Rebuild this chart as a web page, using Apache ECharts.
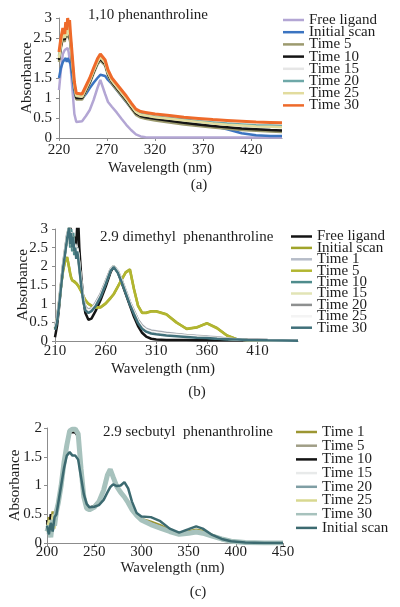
<!DOCTYPE html>
<html><head><meta charset="utf-8">
<script src="https://cdn.jsdelivr.net/npm/echarts@6/dist/echarts.min.js"></script>
<style>html,body{margin:0;padding:0;background:#fff;} .c{position:absolute;left:0;top:0;width:400px;height:607px;}</style>
</head><body>
<div id="pa" class="c"></div><div id="pb" class="c"></div><div id="pc" class="c"></div>
<script>
// ---------- Panel (a): 1,10 phenanthroline ----------
const wlA = [220,222,224,226,227,228,229,230,231,232,234,236,238,240,244,248,252,256,260,263,265,268,271,275,280,285,290,295,300,305,310,320,335,350,365,380,395,410,425,440,452];
const aFree = [1.2,1.7,2.1,2.2,2.25,2.2,2.25,2.15,2.1,1.8, 1.2,0.6,0.4,0.37,0.42,0.55,0.7,0.95,1.25,1.45, 1.42,1.1,0.9,0.78,0.64,0.48,0.33,0.2,0.09,0.04, 0.02,0.01,0.01,0.01,0.01,0.01,0.01,0.01,0.01,0.01, 0.01];
const aInitial = [1.5,1.75,1.9,1.95,2.0,1.9,2.0,1.95,1.97,1.85, 1.5,1.15,0.98,0.95,0.98,1.1,1.25,1.38,1.5,1.58, 1.62,1.55,1.45,1.35,1.2,1.05,0.9,0.75,0.62,0.56, 0.53,0.5,0.45,0.4,0.35,0.3,0.22,0.12,0.07,0.05, 0.05];
const aTime5 = [1.9,2.25,2.5,2.4,2.65,2.5,2.7,2.6,2.65,2.35, 1.75,1.26,0.96,0.92,0.96,1.16,1.36,1.61,1.84,1.94, 1.94,1.81,1.56,1.36,1.21,1.06,0.91,0.74,0.58,0.51, 0.48,0.44,0.39,0.34,0.3,0.26,0.23,0.2,0.18,0.16, 0.15];
const aTime10 = [1.95,2.3,2.55,2.45,2.7,2.55,2.75,2.65,2.7,2.4, 1.8,1.3,1.0,0.96,1.0,1.2,1.4,1.65,1.88,1.98, 1.98,1.85,1.6,1.4,1.25,1.1,0.95,0.78,0.62,0.55, 0.52,0.48,0.43,0.38,0.34,0.3,0.27,0.24,0.22,0.2, 0.19];
const aTime15 = [2.02,2.38,2.62,2.52,2.78,2.58,2.82,2.72,2.78,2.48, 1.88,1.33,1.06,1.01,1.04,1.24,1.44,1.69,1.91,2.03, 2.04,1.89,1.64,1.44,1.29,1.14,0.99,0.82,0.66,0.59, 0.57,0.53,0.49,0.45,0.41,0.37,0.34,0.32,0.3,0.29, 0.28];
const aTime20 = [2.05,2.4,2.65,2.55,2.8,2.6,2.85,2.75,2.8,2.5, 1.9,1.35,1.07,1.02,1.05,1.25,1.45,1.7,1.92,2.04, 2.05,1.9,1.65,1.45,1.3,1.15,1.0,0.83,0.67,0.6, 0.58,0.54,0.5,0.46,0.42,0.39,0.36,0.34,0.32,0.31, 0.3];
const aTime25 = [2.0,2.35,2.6,2.5,2.75,2.55,2.8,2.7,2.75,2.45, 1.85,1.32,1.05,1.0,1.03,1.23,1.43,1.68,1.9,2.02, 2.03,1.88,1.63,1.43,1.28,1.13,0.98,0.81,0.65,0.58, 0.56,0.52,0.48,0.44,0.4,0.36,0.33,0.31,0.29,0.28, 0.27];
const aTime30 = [2.15,2.5,2.75,2.6,2.9,2.7,3.0,2.85,2.95,2.6, 2.0,1.4,1.12,1.07,1.1,1.3,1.5,1.75,1.98,2.1, 2.12,1.95,1.7,1.5,1.35,1.2,1.05,0.88,0.72,0.66, 0.64,0.6,0.56,0.52,0.49,0.46,0.44,0.42,0.4,0.39, 0.38];

// ---------- Panel (b): 2.9 dimethyl phenanthroline ----------
const wlB = [210,212,214,216,218,220,222,224,225,226, 227,228,229,230,231,232,233,234,236,238, 240,243,246,250,255,260,265,268,272,276, 280,284,288,292,296,300,305,310,320,330, 340,350,360,370,380,390,400,420,450];
const bFree = [0.1,0.4,0.9,1.5,2.0,2.4,2.8,3.0,3.2,2.6, 2.9,2.5,2.8,2.4,2.6,3.1,3.2,2.5,1.7,1.1, 0.75,0.57,0.6,0.8,1.1,1.45,1.85,2.0,1.85,1.55, 1.25,0.95,0.65,0.4,0.22,0.12,0.06,0.04,0.03,0.03, 0.03,0.02,0.02,0.02,0.02,0.02,0.02,0.01,0.01];
const bInitial = [0.35,0.6,1.0,1.5,1.9,2.15,2.25,1.95,1.8,1.68, 1.62,1.6,1.6,1.57,1.55,1.52,1.48,1.44,1.33,1.2, 1.1,1.0,0.95,0.9,0.9,1.0,1.15,1.25,1.45,1.65, 1.85,1.92,1.4,0.95,0.76,0.76,0.8,0.8,0.72,0.5, 0.32,0.36,0.48,0.35,0.15,0.04,0.03,0.02,0.01];
const bTime1 = [0.42,0.62,1.05,1.55,2.05,2.45,2.85,3.0,2.75,2.95, 2.6,2.75,2.5,2.6,2.45,2.5,2.35,2.05,1.55,1.15, 0.92,0.84,0.88,1.02,1.26,1.6,1.93,2.0,1.88,1.63, 1.34,1.05,0.81,0.57,0.42,0.33,0.28,0.26,0.22,0.19, 0.16,0.14,0.12,0.1,0.07,0.05,0.04,0.03,0.02];
const bTime5 = [0.33,0.58,1.0,1.5,1.88,2.13,2.23,1.97,1.82,1.7, 1.63,1.6,1.58,1.56,1.54,1.5,1.47,1.43,1.32,1.19, 1.09,0.99,0.94,0.9,0.91,1.01,1.16,1.26,1.46,1.66, 1.84,1.9,1.38,0.94,0.75,0.75,0.79,0.79,0.71,0.49, 0.33,0.37,0.47,0.34,0.14,0.04,0.03,0.02,0.01];
const bTime10 = [0.35,0.55,1.0,1.5,2.0,2.4,2.8,3.1,2.5,3.0, 2.4,2.9,2.3,2.6,2.3,2.5,2.3,2.0,1.5,1.1, 0.85,0.78,0.82,0.95,1.2,1.55,1.9,2.0,1.85,1.6, 1.3,1.0,0.75,0.5,0.35,0.27,0.22,0.2,0.17,0.15, 0.13,0.11,0.09,0.07,0.05,0.04,0.03,0.02,0.01];
const bTime15 = [0.38,0.58,1.02,1.52,2.02,2.42,2.82,3.05,2.6,2.9, 2.5,2.8,2.4,2.55,2.35,2.45,2.3,2.02,1.52,1.12, 0.88,0.8,0.84,0.97,1.22,1.56,1.91,2.0,1.86,1.61, 1.31,1.02,0.77,0.53,0.37,0.29,0.24,0.22,0.18,0.16, 0.14,0.12,0.1,0.08,0.06,0.04,0.03,0.02,0.01];
const bTime20 = [0.4,0.6,1.05,1.55,2.05,2.45,2.85,3.0,2.7,2.9, 2.6,2.7,2.5,2.6,2.4,2.5,2.3,2.0,1.55,1.15, 0.9,0.82,0.86,1.0,1.25,1.58,1.92,2.0,1.87,1.62, 1.33,1.04,0.8,0.56,0.4,0.31,0.26,0.24,0.2,0.18, 0.15,0.13,0.11,0.09,0.07,0.05,0.04,0.03,0.02];
const bTime25 = [0.38,0.57,1.03,1.53,2.03,2.43,2.83,3.02,2.65,2.92, 2.55,2.75,2.45,2.58,2.38,2.48,2.32,2.02,1.53,1.13, 0.88,0.81,0.85,0.98,1.23,1.57,1.91,2.0,1.86,1.61, 1.32,1.03,0.78,0.54,0.38,0.3,0.25,0.23,0.19,0.17, 0.14,0.12,0.1,0.08,0.06,0.04,0.03,0.02,0.01];
const bTime30 = [0.3,0.5,0.95,1.45,1.95,2.35,2.75,3.05,2.6,2.9, 2.5,2.8,2.4,2.5,2.2,2.4,2.2,1.95,1.45,1.05, 0.82,0.75,0.8,0.93,1.18,1.52,1.88,1.98,1.83,1.57, 1.27,0.97,0.72,0.48,0.33,0.25,0.2,0.18,0.15,0.13, 0.11,0.09,0.08,0.06,0.05,0.04,0.03,0.02,0.01];

// ---------- Panel (c): 2.9 secbutyl phenanthroline ----------
const wlC = [200,202,204,206,208,210,212,215,218,221, 224,227,230,233,236,239,242,245,250,255, 260,264,267,270,274,278,282,286,290,295, 300,310,320,330,340,350,358,365,375,385, 395,410,430,450];
const cTime1 = [0.25,0.45,0.3,0.55,0.35,0.6,0.75,1.0,1.38,1.68, 1.92,1.95,1.95,1.88,1.3,0.82,0.62,0.6,0.64,0.74, 0.93,1.17,1.26,1.14,0.98,0.88,0.81,0.72,0.6,0.5, 0.42,0.37,0.31,0.22,0.17,0.2,0.23,0.21,0.14,0.08, 0.03,0.01,0.0,0.0];
const cTime5 = [0.35,0.2,0.4,0.25,0.5,0.5,0.72,1.0,1.4,1.7, 1.93,1.96,1.96,1.88,1.3,0.81,0.61,0.6,0.63,0.73, 0.92,1.17,1.27,1.14,0.98,0.88,0.8,0.71,0.59,0.49, 0.41,0.34,0.28,0.21,0.16,0.18,0.2,0.18,0.13,0.07, 0.03,0.01,0.0,0.0];
const cTime10 = [0.4,0.2,0.5,0.3,0.45,0.55,0.72,1.0,1.38,1.7, 1.92,1.93,1.92,1.85,1.28,0.8,0.62,0.62,0.64,0.73, 0.92,1.16,1.25,1.13,0.97,0.87,0.8,0.71,0.59,0.49, 0.41,0.34,0.28,0.21,0.16,0.18,0.2,0.18,0.13,0.07, 0.03,0.01,0.0,0.0];
const cTime15 = [0.15,0.35,0.2,0.45,0.3,0.5,0.7,1.0,1.4,1.7, 1.95,1.97,1.97,1.9,1.3,0.8,0.6,0.58,0.62,0.72, 0.92,1.18,1.28,1.15,0.98,0.88,0.8,0.7,0.58,0.48, 0.4,0.32,0.26,0.2,0.15,0.17,0.19,0.17,0.12,0.07, 0.03,0.01,0.0,0.0];
const cTime20 = [0.3,0.15,0.35,0.2,0.4,0.5,0.7,1.0,1.38,1.69, 1.94,1.97,1.97,1.89,1.3,0.81,0.61,0.59,0.63,0.73, 0.93,1.18,1.28,1.15,0.98,0.88,0.8,0.7,0.58,0.48, 0.4,0.33,0.27,0.2,0.15,0.17,0.19,0.17,0.12,0.07, 0.03,0.01,0.0,0.0];
const cTime25 = [0.2,0.4,0.15,0.5,0.25,0.55,0.7,1.0,1.39,1.7, 1.94,1.96,1.96,1.89,1.3,0.81,0.61,0.59,0.63,0.73, 0.92,1.17,1.27,1.14,0.98,0.88,0.8,0.71,0.59,0.49, 0.41,0.34,0.28,0.21,0.16,0.18,0.21,0.19,0.13,0.07, 0.03,0.01,0.0,0.0];
const cTime30 = [0.2,0.3,0.1,0.4,0.3,0.55,0.7,1.0,1.4,1.7, 1.95,1.98,1.98,1.9,1.3,0.8,0.6,0.58,0.62,0.72, 0.92,1.18,1.28,1.15,0.98,0.88,0.8,0.7,0.58,0.48, 0.4,0.32,0.26,0.2,0.15,0.17,0.19,0.17,0.12,0.07, 0.03,0.01,0.0,0.0];
const cInitial = [0.3,0.15,0.35,0.2,0.45,0.5,0.7,1.0,1.3,1.52, 1.58,1.52,1.52,1.45,1.15,0.85,0.68,0.62,0.63,0.66, 0.75,0.88,0.97,1.02,0.99,1.0,1.06,0.95,0.72,0.52, 0.46,0.45,0.38,0.25,0.18,0.24,0.29,0.25,0.14,0.07, 0.03,0.01,0.0,0.0];

const FONT = 'Liberation Serif';
const TXT = '#1e1e1e';
const AX = '#8c8c8c';

function pts(xs, ys) { return xs.map((x, i) => [x, ys[i]]); }

function build(el, cfg) {
  const chart = echarts.init(document.getElementById(el), null, {renderer: 'canvas'});
  const series = cfg.series.map(s => ({
    name: s.name, type: 'line', data: pts(cfg.wl, s.ys),
    showSymbol: false, symbol: 'none', smooth: false, clip: true,
    lineStyle: {color: s.color, width: s.width || 2.5},
    itemStyle: {color: s.color},
    emphasis: {disabled: true}, animation: false
  }));
  chart.setOption({
    animation: false,
    backgroundColor: 'transparent',
    grid: {left: cfg.grid[0], top: cfg.grid[1], width: cfg.grid[2], height: cfg.grid[3], containLabel: false},
    xAxis: {
      type: 'value', min: cfg.xmin, max: cfg.xmax, interval: 50,
      axisLine: {show: true, onZero: true, lineStyle: {color: AX, width: 1}},
      axisTick: {show: true, length: 3, lineStyle: {color: AX}},
      splitLine: {show: false},
      axisLabel: {fontFamily: FONT, fontSize: 15, color: TXT, margin: cfg.xLabelMargin, showMaxLabel: cfg.showMax, showMinLabel: true},
      name: 'Wavelength (nm)', nameLocation: 'middle', nameGap: cfg.xNameGap, nameMoveOverlap: false,
      nameTextStyle: {fontFamily: FONT, fontSize: 15, color: TXT, padding: cfg.xNamePad}
    },
    yAxis: {
      type: 'value', min: 0, max: cfg.ymax, interval: 0.5,
      axisLine: {show: true, lineStyle: {color: AX, width: 1}},
      axisTick: {show: true, length: 3, lineStyle: {color: AX}},
      splitLine: {show: false},
      axisLabel: {fontFamily: FONT, fontSize: 15, color: TXT, margin: cfg.yLabelMargin},
      name: 'Absorbance', nameLocation: 'middle', nameGap: cfg.yNameGap, nameMoveOverlap: false,
      nameTextStyle: {fontFamily: FONT, fontSize: 15, color: TXT}
    },
    legend: {
      orient: 'vertical', left: cfg.legend[0], top: cfg.legend[1],
      itemWidth: cfg.legend[2], itemHeight: 2.5, icon: 'rect', itemGap: cfg.legend[3],
      padding: 0, selectedMode: false,
      textStyle: {fontFamily: FONT, fontSize: 15, color: TXT},
      data: cfg.series.map(s => s.name)
    },
    graphic: [
      {type: 'text', x: cfg.title[0], y: cfg.title[1], style: {text: cfg.title[2], font: '15px "Liberation Serif"', fill: TXT, align: 'left', verticalAlign: 'middle'}},
      {type: 'text', x: cfg.caption[0], y: cfg.caption[1], style: {text: cfg.caption[2], font: '15px "Liberation Serif"', fill: TXT, align: 'center', verticalAlign: 'middle'}}
    ],
    series: series
  });
}

build('pa', {
  wl: wlA, xmin: 220, xmax: 452, ymax: 3, showMax: false,
  grid: [59, 18, 223, 120], xLabelMargin: 5, xNameGap: 23, xNamePad: [0, 21, 0, 0],
  yLabelMargin: 7, yNameGap: 24,
  legend: [283, 12.5, 21, -2.8],
  title: [88, 15, '1,10 phenanthroline'], caption: [199, 185, '(a)'],
  series: [
    {name: 'Free ligand', ys: aFree, color: '#b3a6d4'},
    {name: 'Initial scan', ys: aInitial, color: '#3b74c1'},
    {name: 'Time 5', ys: aTime5, color: '#9c9a6e'},
    {name: 'Time 10', ys: aTime10, color: '#141414'},
    {name: 'Time 15', ys: aTime15, color: '#e6e6e6'},
    {name: 'Time 20', ys: aTime20, color: '#6ea8a8'},
    {name: 'Time 25', ys: aTime25, color: '#e2dc9e'},
    {name: 'Time 30', ys: aTime30, color: '#ee6a2a', width: 3}
  ]
});

build('pb', {
  wl: wlB, xmin: 210, xmax: 450, ymax: 3, showMax: false,
  grid: [55, 229, 243, 112], xLabelMargin: 3, xNameGap: 21, xNamePad: [0, 27, 0, 0],
  yLabelMargin: 7, yNameGap: 24,
  legend: [291, 229, 21, -3.6],
  title: [100, 237, '2.9 dimethyl  phenanthroline'], caption: [197, 392, '(b)'],
  series: [
    {name: 'Free ligand', ys: bFree, color: '#141414'},
    {name: 'Initial scan', ys: bInitial, color: '#a0a42a'},
    {name: 'Time 1', ys: bTime1, color: '#b6bcc8'},
    {name: 'Time 5', ys: bTime5, color: '#b2b630'},
    {name: 'Time 10', ys: bTime10, color: '#4f8c8c'},
    {name: 'Time 15', ys: bTime15, color: '#e2e4b6'},
    {name: 'Time 20', ys: bTime20, color: '#8e9090'},
    {name: 'Time 25', ys: bTime25, color: '#f4f4f4'},
    {name: 'Time 30', ys: bTime30, color: '#40707a'}
  ]
});

build('pc', {
  wl: wlC, xmin: 200, xmax: 450, ymax: 2, showMax: true,
  grid: [46, 428, 237, 115], xLabelMargin: 2, xNameGap: 18, xNamePad: [0, 0, 0, 15],
  yLabelMargin: 5, yNameGap: 24,
  legend: [296, 424.5, 21, -1.3],
  title: [103, 432, '2.9 secbutyl  phenanthroline'], caption: [198, 592, '(c)'],
  series: [
    {name: 'Time 1', ys: cTime1, color: '#9c9632'},
    {name: 'Time 5', ys: cTime5, color: '#a09e86'},
    {name: 'Time 10', ys: cTime10, color: '#141414'},
    {name: 'Time 15', ys: cTime15, color: '#e8eaea'},
    {name: 'Time 20', ys: cTime20, color: '#7f9ea4'},
    {name: 'Time 25', ys: cTime25, color: '#d8d890'},
    {name: 'Time 30', ys: cTime30, color: '#a7c2bd', width: 5},
    {name: 'Initial scan', ys: cInitial, color: '#3c6a70', width: 2.5}
  ]
});
</script>
</body></html>
